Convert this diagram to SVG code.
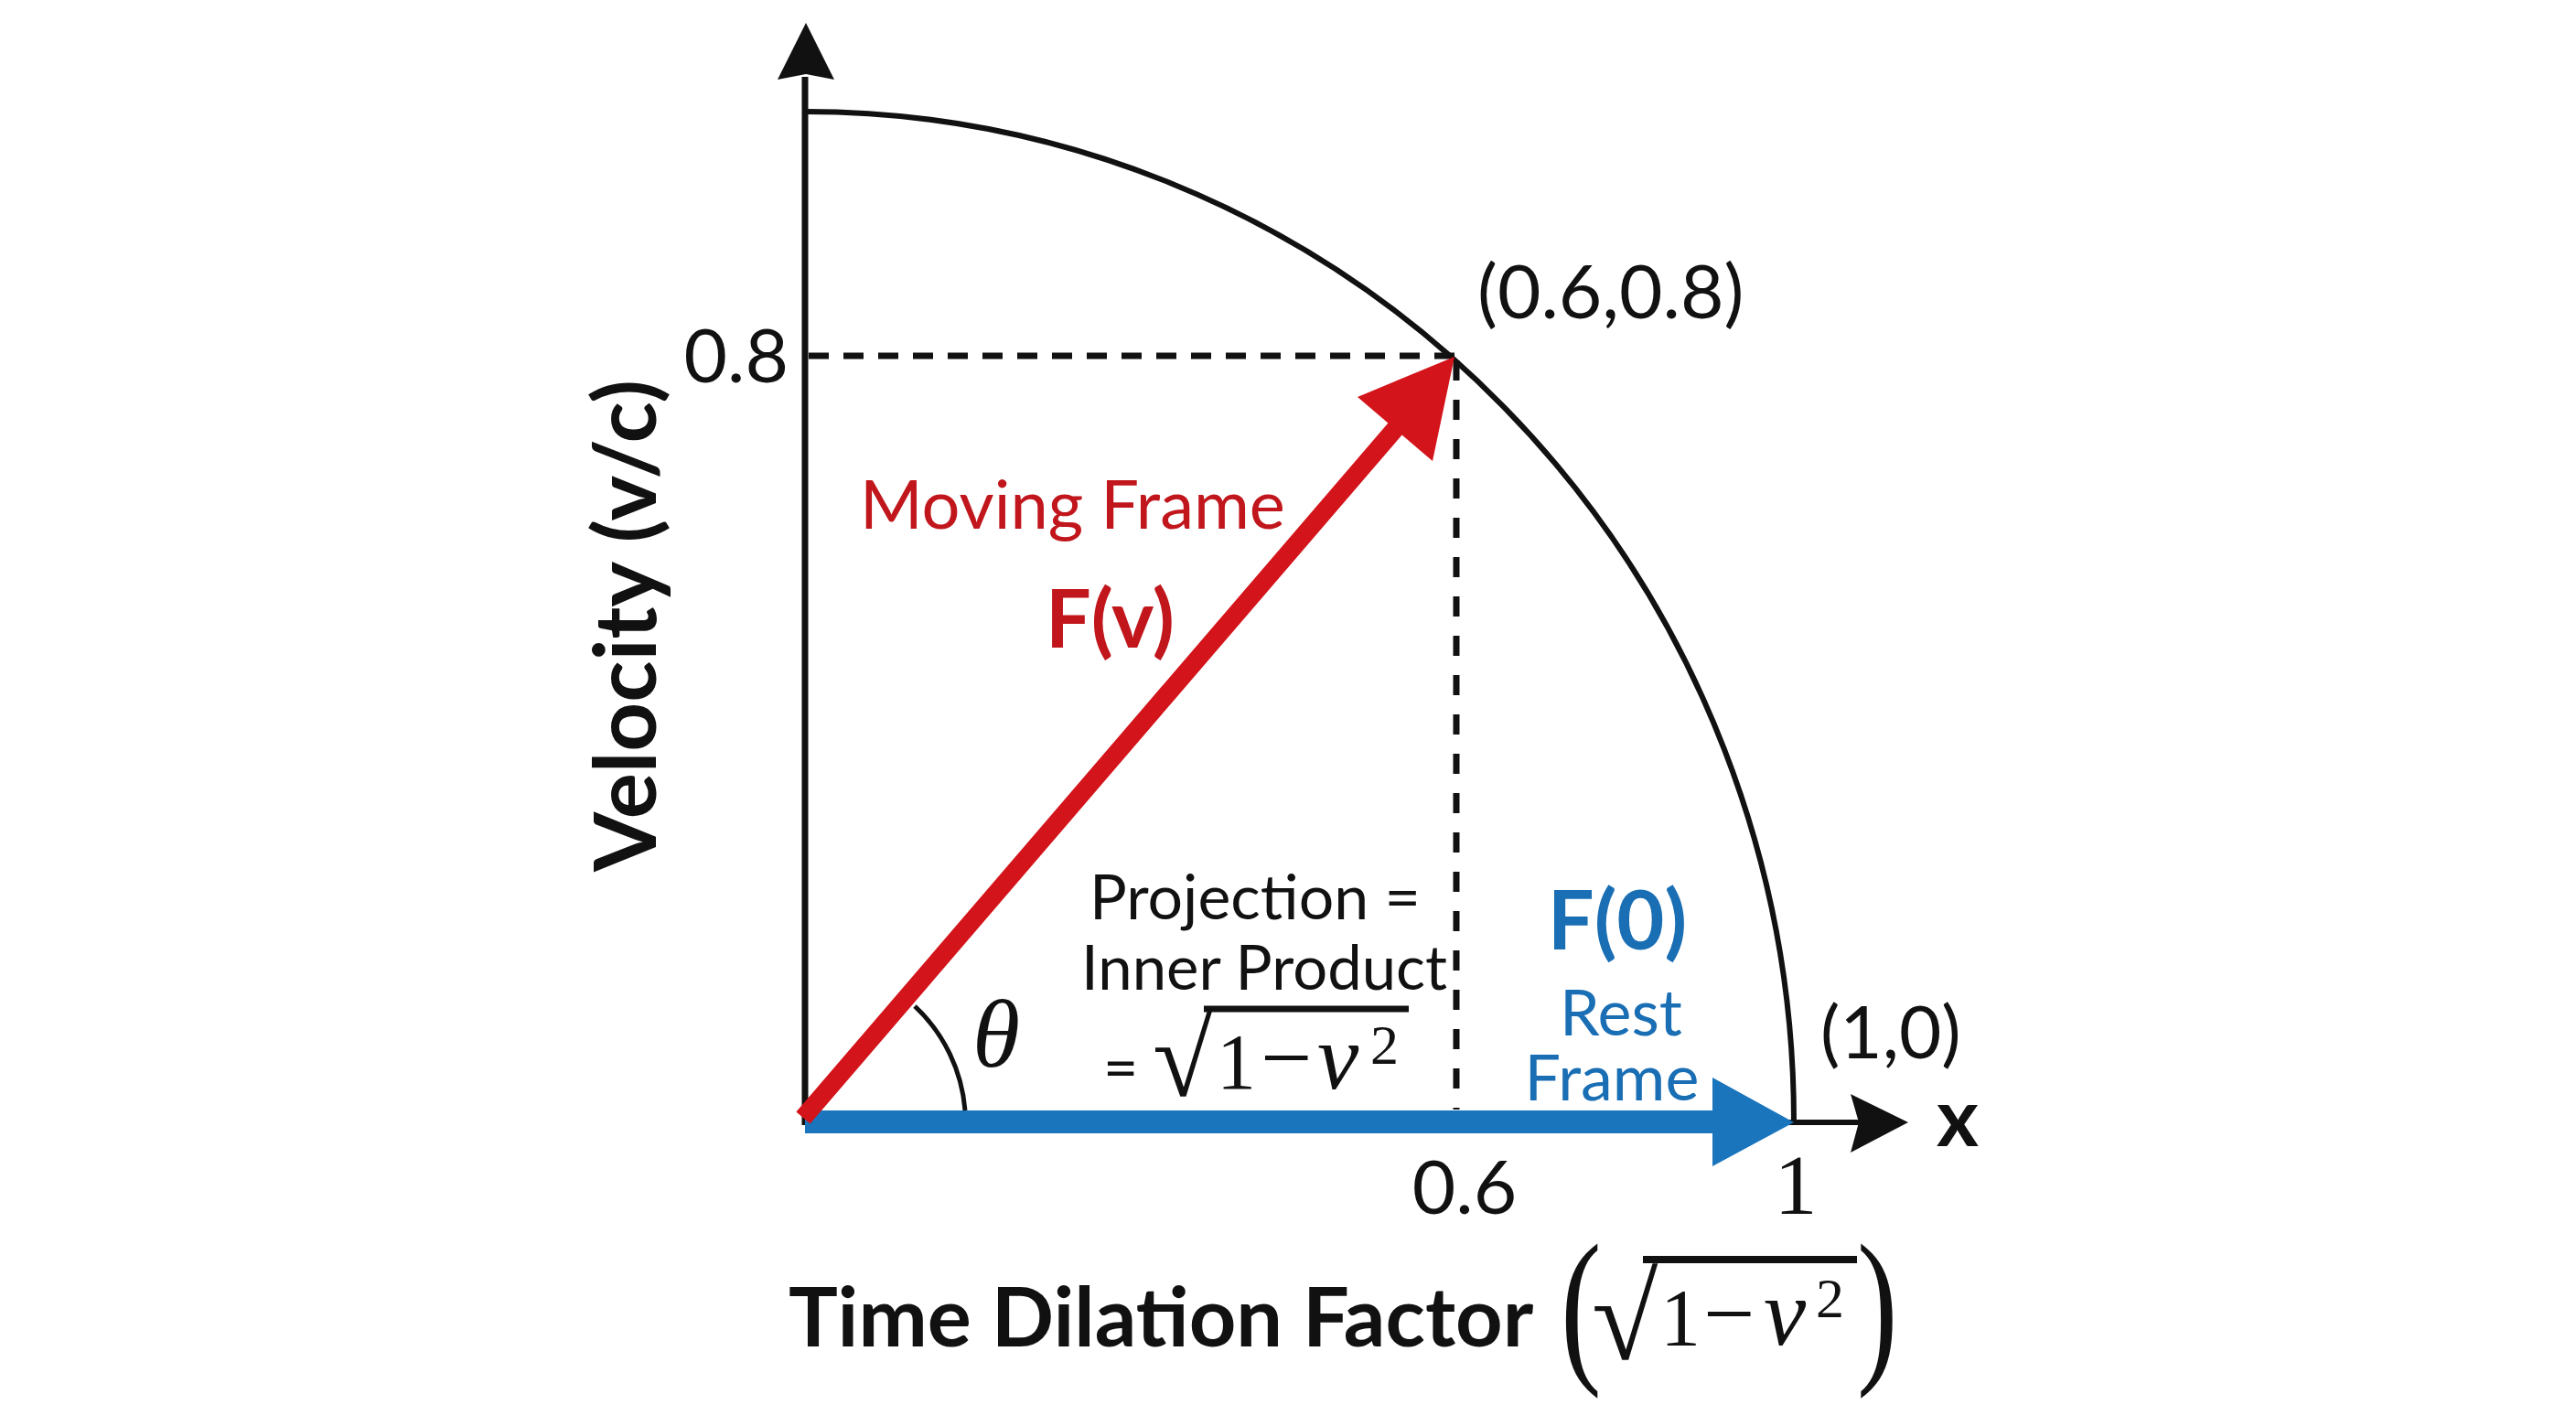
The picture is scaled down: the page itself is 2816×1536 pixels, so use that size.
<svg xmlns="http://www.w3.org/2000/svg" width="2816" height="1536" viewBox="0 0 2816 1536">
<style>
.sans{font-family:Lato,"Open Sans","Liberation Sans",sans-serif}
.serif{font-family:"Liberation Serif","DejaVu Serif",serif}
.blk{fill:#111}
.red{fill:#c0161c}
.blue{fill:#1a6eb4}
.ln{stroke:#111;fill:none}
.dash{stroke:#111;fill:none;stroke-width:7}
</style>
<rect width="2816" height="1536" fill="#ffffff"/>

<g id="curve">
<path class="ln" stroke-width="6" d="M 880 122 A 1081 1104 0 0 1 1961 1226"/>
</g>

<g id="axes">
<line class="ln" stroke-width="7" x1="880" y1="1230" x2="880" y2="84"/>
<polygon class="blk" points="881,25 912,87 881,81 850,87"/>
<line class="ln" stroke-width="6" x1="880" y1="1227" x2="2032" y2="1227"/>
<polygon class="blk" points="2086,1227 2023,1260 2032,1227 2023,1196"/>
</g>

<g id="guides">
<line class="dash" stroke-dasharray="22 16" x1="884" y1="389" x2="1592" y2="389"/>
<line class="dash" stroke-width="6" stroke-dasharray="22 21" x1="1592" y1="394" x2="1592" y2="1213"/>
</g>

<g id="connectors">
<polygon id="rest-vector" fill="#1a75bd" points="880,1214 1872,1214 1872,1178 1961,1227 1872,1275 1872,1239 880,1239"/>
<polygon id="moving-vector" fill="#d3141a" points="870.4,1215.5 1517.4,462.5 1484,433.9 1590,390 1566,504.1 1532.6,475.5 885.6,1228.5"/>
<path id="theta-arc" class="ln" stroke-width="5" d="M 1055 1214 A 175 175 0 0 0 1000 1100"/>
</g>

<g id="labels">
<text class="serif blk" x="1063" y="1166" font-size="106" font-style="italic">θ</text>
<text class="sans blk" x="862" y="418" font-size="82" text-anchor="end">0.8</text>
<text class="sans blk" x="1601" y="1327" font-size="82" text-anchor="middle">0.6</text>
<text class="serif blk" x="1963" y="1327" font-size="94" text-anchor="middle">1</text>
<text class="sans blk" x="1990" y="1157" font-size="80">(1,0)</text>
<text class="sans blk" x="2117" y="1253" font-size="88" font-weight="bold">x</text>
<text class="sans blk" x="1615" y="348" font-size="82">(0.6,0.8)</text>
</g>

<g id="moving-frame-label">
<text class="sans red" x="940" y="578" font-size="74">Moving Frame</text>
<text class="sans red" x="1143" y="708" font-size="88" font-weight="bold">F(v)</text>
</g>

<g id="rest-frame-label">
<text class="sans blue" x="1768" y="1038" font-size="90" font-weight="bold" text-anchor="middle">F(0)</text>
<text class="sans blue" x="1772" y="1132" font-size="70" text-anchor="middle">Rest</text>
<text class="sans blue" x="1762" y="1203" font-size="70" text-anchor="middle">Frame</text>
</g>

<g id="projection-label">
<text class="sans blk" x="1191" y="1005" font-size="68">Projection =</text>
<text class="sans blk" x="1182" y="1082" font-size="67">Inner Product</text>
<text class="sans blk" x="1206" y="1191" font-size="66">=</text>
<text class="serif blk" x="1260" y="1198" font-size="120">√</text>
<line class="ln" stroke-width="7" x1="1316" y1="1103" x2="1540" y2="1103"/>
<text class="serif blk" y="1190" font-size="86"><tspan x="1330">1</tspan><tspan x="1378" font-size="100">−</tspan><tspan x="1440" font-size="102" font-style="italic">v</tspan><tspan x="1498" y="1163" font-size="62">2</tspan></text>
</g>

<g id="y-title">
<text class="sans blk" transform="translate(717,684) rotate(-90)" font-size="94" font-weight="bold" text-anchor="middle">Velocity (v/c)</text>
</g>

<g id="x-title">
<text class="sans blk" x="862" y="1472" font-size="90" font-weight="bold">Time Dilation Factor</text>
<text class="serif blk" transform="translate(1706,1489) scale(0.72,1)" font-size="186">(</text>
<text class="serif blk" transform="translate(2030,1489) scale(0.72,1)" font-size="186">)</text>
<text class="serif blk" x="1740" y="1486" font-size="132">√</text>
<line class="ln" stroke-width="8" x1="1796" y1="1377" x2="2030" y2="1377"/>
<text class="serif blk" y="1470" font-size="88"><tspan x="1815">1</tspan><tspan x="1862" font-size="100">−</tspan><tspan x="1928" font-size="104" font-style="italic">v</tspan><tspan x="1985" y="1440" font-size="62">2</tspan></text>
</g>
</svg>
